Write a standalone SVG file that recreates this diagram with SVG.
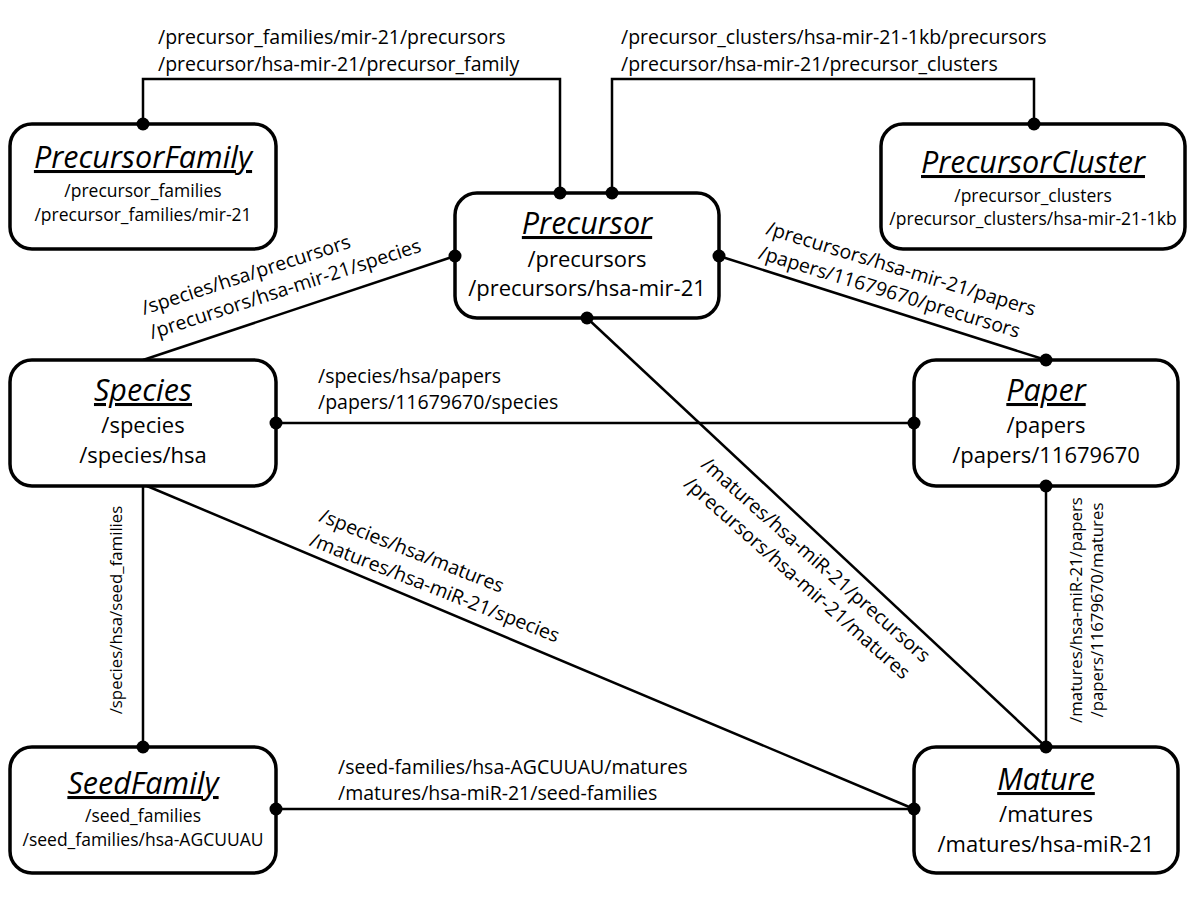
<svg xmlns="http://www.w3.org/2000/svg" width="1200" height="904" viewBox="0 0 1200 904">
<style>
.box{fill:#fff;stroke:#000;stroke-width:3.5}
.con{fill:none;stroke:#000;stroke-width:2.5}
.dot{fill:#000}
text{font-family:"Open Sans","DejaVu Sans",sans-serif;fill:#000}
.t{font-size:30.5px;font-style:italic;text-anchor:middle;text-decoration:underline}
.big{font-size:22px;text-anchor:middle}
.sm{font-size:17.5px;text-anchor:middle}
.lbl{font-size:19.5px}
.vl{font-size:16.8px;text-anchor:middle}
</style>
<rect width="1200" height="904" fill="#fff"/>
<g id="connectors">
<path class="con" d="M143,124 V79 H560 V193"/>
<path class="con" d="M612,193 V79 H1034 V124"/>
<path class="con" d="M455,256 L143,360"/>
<path class="con" d="M719,256 L1046,360"/>
<path class="con" d="M587,318 L1046,747"/>
<path class="con" d="M276,423 H914"/>
<path class="con" d="M143,486 V747"/>
<path class="con" d="M147,486 L914,809"/>
<path class="con" d="M1046,486 V747"/>
<path class="con" d="M276,809 H914"/>
<text class="lbl" x="158" y="44">/precursor_families/mir-21/precursors</text>
<text class="lbl" x="158" y="71">/precursor/hsa-mir-21/precursor_family</text>
<text class="lbl" x="621" y="44">/precursor_clusters/hsa-mir-21-1kb/precursors</text>
<text class="lbl" x="621" y="71">/precursor/hsa-mir-21/precursor_clusters</text>
<g transform="translate(144,315) rotate(-18)"><text class="lbl" x="0" y="0">/species/hsa/precursors</text><text class="lbl" x="0" y="25.5">/precursors/hsa-mir-21/species</text></g>
<g transform="translate(765,234) rotate(17)"><text class="lbl" x="0" y="0">/precursors/hsa-mir-21/papers</text><text class="lbl" x="0" y="25.5">/papers/11679670/precursors</text></g>
<text class="lbl" x="318" y="383">/species/hsa/papers</text>
<text class="lbl" x="318" y="409">/papers/11679670/species</text>
<g transform="translate(318,521) rotate(21.5)"><text class="lbl" x="0" y="0">/species/hsa/matures</text><text class="lbl" x="0" y="26">/matures/hsa-miR-21/species</text></g>
<g transform="translate(700,466) rotate(41.5)"><text class="lbl" x="0" y="0">/matures/hsa-miR-21/precursors</text><text class="lbl" x="0" y="26">/precursors/hsa-mir-21/matures</text></g>
<text class="vl" transform="translate(122,610) rotate(-90)">/species/hsa/seed_families</text>
<text class="vl" transform="translate(1082,610) rotate(-90)">/matures/hsa-miR-21/papers</text>
<text class="vl" transform="translate(1103,610) rotate(-90)">/papers/11679670/matures</text>
<text class="lbl" x="338" y="774">/seed-families/hsa-AGCUUAU/matures</text>
<text class="lbl" x="338" y="800">/matures/hsa-miR-21/seed-families</text>
</g>
<g id="PrecursorFamily">
<rect class="box" x="10" y="124" width="266" height="125" rx="22"/>
<text class="t" x="143" y="168">PrecursorFamily</text>
<text class="sm" x="143" y="197">/precursor_families</text>
<text class="sm" x="143" y="221">/precursor_families/mir-21</text>
</g>
<g id="PrecursorCluster">
<rect class="box" x="881" y="124" width="304" height="125" rx="22"/>
<text class="t" x="1033" y="173">PrecursorCluster</text>
<text class="sm" x="1033" y="202">/precursor_clusters</text>
<text class="sm" x="1033" y="225">/precursor_clusters/hsa-mir-21-1kb</text>
</g>
<g id="Precursor">
<rect class="box" x="455" y="193" width="264" height="125" rx="22"/>
<text class="t" x="587" y="234">Precursor</text>
<text class="big" x="587" y="267">/precursors</text>
<text class="big" x="587" y="296">/precursors/hsa-mir-21</text>
</g>
<g id="Species">
<rect class="box" x="10" y="360" width="266" height="126" rx="22"/>
<text class="t" x="143" y="401">Species</text>
<text class="big" x="143" y="433">/species</text>
<text class="big" x="143" y="463">/species/hsa</text>
</g>
<g id="Paper">
<rect class="box" x="914" y="360" width="264" height="126" rx="22"/>
<text class="t" x="1046" y="401">Paper</text>
<text class="big" x="1046" y="433">/papers</text>
<text class="big" x="1046" y="463">/papers/11679670</text>
</g>
<g id="SeedFamily">
<rect class="box" x="10" y="747" width="266" height="126" rx="22"/>
<text class="t" x="143" y="794">SeedFamily</text>
<text class="sm" x="143" y="822">/seed_families</text>
<text class="sm" x="143" y="846">/seed_families/hsa-AGCUUAU</text>
</g>
<g id="Mature">
<rect class="box" x="914" y="747" width="264" height="126" rx="22"/>
<text class="t" x="1046" y="790">Mature</text>
<text class="big" x="1046" y="822">/matures</text>
<text class="big" x="1046" y="852">/matures/hsa-miR-21</text>
</g>
<g id="dots">
<circle class="dot" cx="143" cy="124" r="6.5"/>
<circle class="dot" cx="560" cy="193" r="6.5"/>
<circle class="dot" cx="612" cy="193" r="6.5"/>
<circle class="dot" cx="1034" cy="124" r="6.5"/>
<circle class="dot" cx="455" cy="256" r="6.5"/>
<circle class="dot" cx="719" cy="256" r="6.5"/>
<circle class="dot" cx="587" cy="318" r="6.5"/>
<circle class="dot" cx="1046" cy="360" r="6.5"/>
<circle class="dot" cx="276" cy="423" r="6.5"/>
<circle class="dot" cx="914" cy="423" r="6.5"/>
<circle class="dot" cx="1046" cy="486" r="6.5"/>
<circle class="dot" cx="1046" cy="747" r="6.5"/>
<circle class="dot" cx="143" cy="747" r="6.5"/>
<circle class="dot" cx="276" cy="809" r="6.5"/>
<circle class="dot" cx="914" cy="809" r="6.5"/>
</g>
</svg>
